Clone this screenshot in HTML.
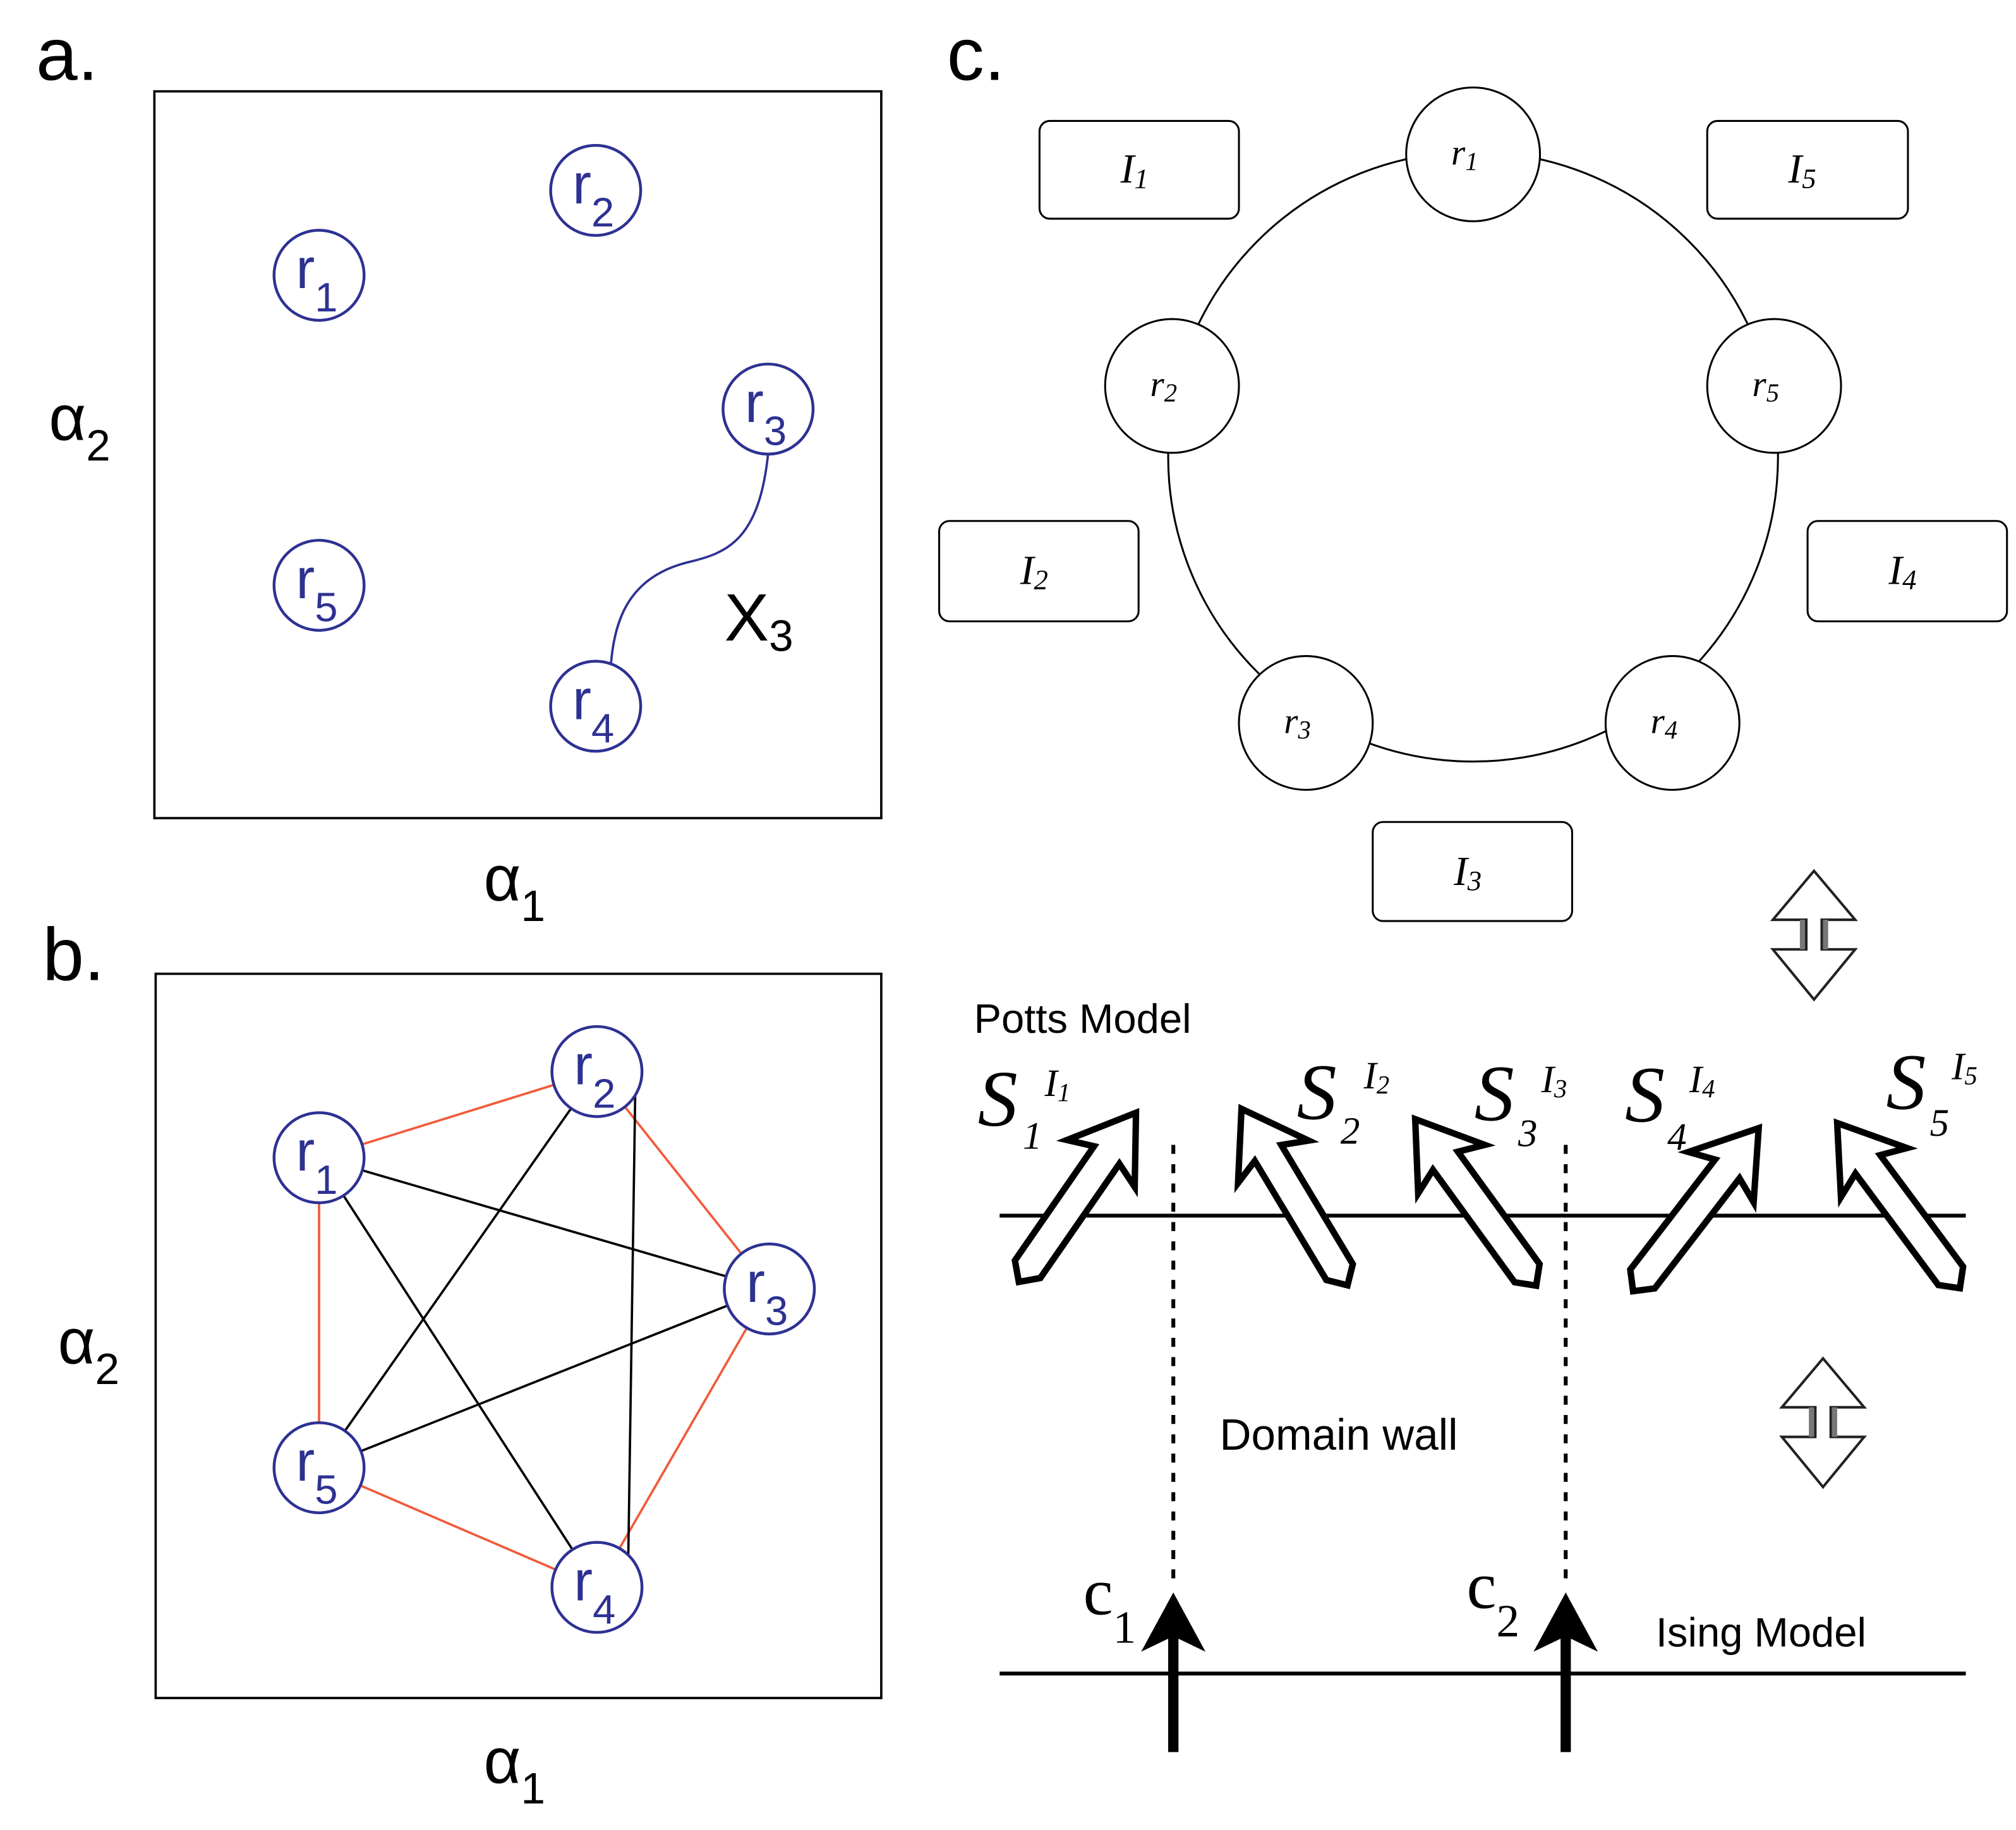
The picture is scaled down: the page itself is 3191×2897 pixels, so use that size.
<!DOCTYPE html>
<html><head><meta charset="utf-8"><style>html,body{margin:0;padding:0;background:#fff}svg{display:block}</style></head>
<body>
<svg width="3191" height="2897" viewBox="0 0 1567 1422.6" xmlns="http://www.w3.org/2000/svg">
<defs>
<g id="sp"><polygon points="0,0 32,48 12,40 12,148 0,160 -12,148 -12,40 -32,48" fill="#fff" stroke="#000" stroke-width="5" stroke-linejoin="miter"/></g>
<g id="dbl"><path d="M0,0 L32,38 L6,38 L6,61 L32,61 L0,100 L-32,61 L-6,61 L-6,38 L-32,38 Z" fill="#fff" stroke="#222" stroke-width="2"/><path d="M-9,38 v23 M9,38 v23" stroke="#777" stroke-width="4"/></g>
</defs>
<g font-family="Liberation Sans, sans-serif">
<!-- panel a -->
<text x="28" y="62" font-size="58">a.</text>
<rect x="120" y="71" width="565" height="565" fill="none" stroke="#000" stroke-width="1.8"/>
<path d="M597,353 C590,420 565,430 535,437 C490,448 478,480 475,515" fill="none" stroke="#2e3192" stroke-width="1.8"/>
<g fill="#fff" stroke="#2e3192" stroke-width="2.2">
<circle cx="248" cy="214" r="35"/><circle cx="463" cy="148" r="35"/><circle cx="597" cy="318" r="35"/><circle cx="463" cy="549" r="35"/><circle cx="248" cy="455" r="35"/>
</g>
<g fill="#2e3192" font-size="44">
<text x="230" y="224">r<tspan font-size="32" dy="18">1</tspan></text>
<text x="445" y="158">r<tspan font-size="32" dy="18">2</tspan></text>
<text x="579" y="328">r<tspan font-size="32" dy="18">3</tspan></text>
<text x="445" y="559">r<tspan font-size="32" dy="18">4</tspan></text>
<text x="230" y="465">r<tspan font-size="32" dy="18">5</tspan></text>
</g>
<text x="563" y="498" font-size="52">X<tspan font-size="34" dy="8">3</tspan></text>
<text x="38" y="342" font-size="50">α<tspan font-size="34" dy="16">2</tspan></text>
<text x="376" y="700" font-size="50">α<tspan font-size="34" dy="16">1</tspan></text>

<!-- panel b -->
<text x="33" y="762" font-size="58">b.</text>
<rect x="121" y="757" width="564" height="563" fill="none" stroke="#000" stroke-width="1.8"/>
<g stroke="#f15a3a" stroke-width="1.8">
<line x1="248" y1="900" x2="464" y2="833"/><line x1="464" y1="833" x2="598" y2="1002"/><line x1="598" y1="1002" x2="464" y2="1234"/><line x1="464" y1="1234" x2="248" y2="1141"/><line x1="248" y1="1141" x2="248" y2="900"/>
</g>
<g stroke="#000" stroke-width="1.8">
<line x1="248" y1="900" x2="598" y2="1002"/><line x1="248" y1="900" x2="464" y2="1234"/><line x1="464" y1="833" x2="248" y2="1141"/><line x1="494" y1="833" x2="488" y2="1234"/><line x1="598" y1="1002" x2="248" y2="1141"/>
</g>
<g fill="#fff" stroke="#2e3192" stroke-width="2.2">
<circle cx="248" cy="900" r="35"/><circle cx="464" cy="833" r="35"/><circle cx="598" cy="1002" r="35"/><circle cx="464" cy="1234" r="35"/><circle cx="248" cy="1141" r="35"/>
</g>
<g fill="#2e3192" font-size="44">
<text x="230" y="910">r<tspan font-size="32" dy="18">1</tspan></text>
<text x="446" y="843">r<tspan font-size="32" dy="18">2</tspan></text>
<text x="580" y="1012">r<tspan font-size="32" dy="18">3</tspan></text>
<text x="446" y="1244">r<tspan font-size="32" dy="18">4</tspan></text>
<text x="230" y="1151">r<tspan font-size="32" dy="18">5</tspan></text>
</g>
<text x="45" y="1060" font-size="50">α<tspan font-size="34" dy="16">2</tspan></text>
<text x="376" y="1386" font-size="50">α<tspan font-size="34" dy="16">1</tspan></text>

<!-- panel c -->
<text x="736" y="62" font-size="58">c.</text>
<circle cx="1145" cy="355" r="237" fill="none" stroke="#000" stroke-width="1.5"/>
<g fill="#fff" stroke="#000" stroke-width="1.5">
<circle cx="1145" cy="120" r="52"/><circle cx="911" cy="300" r="52"/><circle cx="1379" cy="300" r="52"/><circle cx="1015" cy="562" r="52"/><circle cx="1300" cy="562" r="52"/>
<rect x="808" y="94" width="155" height="76" rx="8"/><rect x="1327" y="94" width="156" height="76" rx="8"/><rect x="730" y="405" width="155" height="78" rx="8"/><rect x="1405" y="405" width="155" height="78" rx="8"/><rect x="1067" y="639" width="155" height="77" rx="8"/>
</g>
<g font-family="Liberation Serif, serif" font-style="italic" font-size="28">
<text x="1128" y="128">r<tspan font-size="20" dy="4">1</tspan></text>
<text x="894" y="308">r<tspan font-size="20" dy="4">2</tspan></text>
<text x="1362" y="308">r<tspan font-size="20" dy="4">5</tspan></text>
<text x="998" y="570">r<tspan font-size="20" dy="4">3</tspan></text>
<text x="1283" y="570">r<tspan font-size="20" dy="4">4</tspan></text>
<g font-size="32">
<text x="871" y="142">I<tspan font-size="22" dy="4">1</tspan></text>
<text x="1390" y="142">I<tspan font-size="22" dy="4">5</tspan></text>
<text x="793" y="454">I<tspan font-size="22" dy="4">2</tspan></text>
<text x="1468" y="454">I<tspan font-size="22" dy="4">4</tspan></text>
<text x="1130" y="688">I<tspan font-size="22" dy="4">3</tspan></text>
</g>
</g>
<use href="#dbl" x="1410" y="677"/>
<use href="#dbl" x="1417" y="1056"/>

<text x="757" y="803" font-size="32">Potts Model</text>
<line x1="777" y1="945" x2="1528" y2="945" stroke="#000" stroke-width="3"/>
<line x1="777" y1="1301" x2="1528" y2="1301" stroke="#000" stroke-width="3"/>
<g stroke="#000" stroke-width="3" stroke-dasharray="7,8">
<line x1="912" y1="890" x2="912" y2="1235"/><line x1="1217" y1="890" x2="1217" y2="1235"/>
</g>
<g>
<line x1="912" y1="1362" x2="912" y2="1270" stroke="#000" stroke-width="8"/>
<path d="M912,1238 L937,1284 L912,1272 L887,1284 Z" fill="#000"/>
<line x1="1217" y1="1362" x2="1217" y2="1270" stroke="#000" stroke-width="8"/>
<path d="M1217,1238 L1242,1284 L1217,1272 L1192,1284 Z" fill="#000"/>
</g>
<text x="948" y="1127" font-size="34">Domain wall</text>
<text x="1287" y="1280" font-size="32">Ising Model</text>
<g font-family="Liberation Serif, serif" font-size="52">
<text x="842" y="1255">c<tspan font-size="36" dy="22">1</tspan></text>
<text x="1140" y="1250">c<tspan font-size="36" dy="22">2</tspan></text>
</g>

<use href="#sp" transform="translate(883,865) rotate(34.7)"/>
<use href="#sp" transform="translate(965,862) rotate(-31)"/>
<use href="#sp" transform="translate(1100,870) rotate(-36)"/>
<use href="#sp" transform="translate(1367,877) rotate(37.6)"/>
<use href="#sp" transform="translate(1428,873) rotate(-36.6)"/>

<g font-family="Liberation Serif, serif" font-style="italic">
<text x="760" y="875" font-size="62">S</text><text x="812" y="852" font-size="30">I<tspan font-size="20" dy="4">1</tspan></text><text x="795" y="893" font-size="30">1</text>
<text x="1008" y="870" font-size="62">S</text><text x="1060" y="846" font-size="30">I<tspan font-size="20" dy="4">2</tspan></text><text x="1042" y="889" font-size="30">2</text>
<text x="1146" y="871" font-size="62">S</text><text x="1198" y="849" font-size="30">I<tspan font-size="20" dy="4">3</tspan></text><text x="1180" y="891" font-size="30">3</text>
<text x="1263" y="872" font-size="62">S</text><text x="1313" y="849" font-size="30">I<tspan font-size="20" dy="4">4</tspan></text><text x="1296" y="894" font-size="30">4</text>
<text x="1466" y="862" font-size="62">S</text><text x="1517" y="839" font-size="30">I<tspan font-size="20" dy="4">5</tspan></text><text x="1500" y="883" font-size="30">5</text>
</g>
</g>
</svg>
</body></html>
